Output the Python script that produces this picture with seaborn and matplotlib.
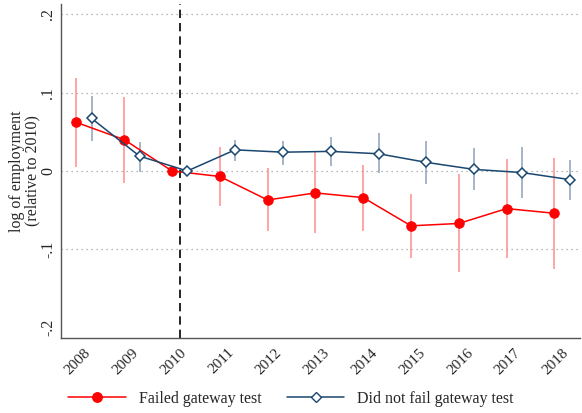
import numpy as np
import pandas as pd
import matplotlib
matplotlib.use("Agg")
import matplotlib.pyplot as plt
from matplotlib.lines import Line2D
import seaborn as sns

## Data
years = [2008, 2009, 2010, 2011, 2012, 2013, 2014, 2015, 2016, 2017, 2018]

failed_est = [0.062, 0.040, 0.0, -0.007, -0.037, -0.028, -0.034, -0.070, -0.067, -0.048, -0.054]
failed_lo = [0.005, -0.015, 0.0, -0.045, -0.077, -0.079, -0.076, -0.111, -0.129, -0.111, -0.125]
failed_hi = [0.119, 0.095, 0.0, 0.031, 0.004, 0.024, 0.008, -0.029, -0.004, 0.015, 0.017]

passed_est = [0.067, 0.019, 0.0, 0.027, 0.024, 0.025, 0.022, 0.011, 0.002, -0.002, -0.011]
passed_lo = [0.038, -0.001, 0.0, 0.013, 0.008, 0.006, -0.003, -0.016, -0.024, -0.035, -0.037]
passed_hi = [0.096, 0.037, 0.0, 0.040, 0.038, 0.044, 0.048, 0.038, 0.029, 0.030, 0.014]

ytick_vals = [-0.2, -0.1, 0.0, 0.1, 0.2]
ytick_labels = ['-.2', '-.1', '0', '.1', '.2']

RED = '#ff0000'
NAVY = '#1a476f'
offset = 0.16

sns.set_style('white')
plt.rcParams['font.family'] = ['Liberation Serif', 'DejaVu Serif']

df = pd.DataFrame({
    'year': years * 2,
    'est': failed_est + passed_est,
    'lo': failed_lo + passed_lo,
    'hi': failed_hi + passed_hi,
    'group': ['Failed gateway test'] * len(years) + ['Did not fail gateway test'] * len(years),
})
df['x'] = df['year'] + np.where(df['group'] == 'Failed gateway test', -offset, offset)

fig = plt.figure(figsize=(5.82, 4.13), dpi=100)
ax = fig.add_axes([0.105, 0.182, 0.892, 0.808])

# horizontal dotted grid
for v in [-0.1, 0.0, 0.1, 0.2]:
    ax.axhline(v, color='#a0a0a0', ls=(0, (1, 3)), lw=0.9, zorder=0)

# confidence intervals
fail = df[df['group'] == 'Failed gateway test']
keep = df[df['group'] == 'Did not fail gateway test']
ax.vlines(fail['x'], fail['lo'], fail['hi'], color='#ff8c8c', lw=1.1, zorder=1)
ax.vlines(keep['x'], keep['lo'], keep['hi'], color='#8ea2b7', lw=1.1, zorder=1)

# point estimates
sns.lineplot(data=fail, x='x', y='est', color=RED, lw=1.1, marker='o',
             markersize=6.8, markeredgecolor=RED, ax=ax, zorder=3)
sns.lineplot(data=keep, x='x', y='est', color=NAVY, lw=1.1, marker='D',
             markersize=5.2, markerfacecolor='white', markeredgecolor=NAVY,
             markeredgewidth=1.1, ax=ax, zorder=3)

ax.axvline(2010, color='black', ls=(0, (5, 3)), lw=1.2, zorder=2)

ax.set_xlim(2007.52, 2018.38)
ax.set_ylim(-0.213, 0.213)
ax.set_xticks(years)
ax.set_xticklabels([str(y) for y in years], rotation=45, ha='right',
                   rotation_mode='anchor', fontsize=11)
ax.set_yticks(ytick_vals)
ax.set_yticklabels(ytick_labels, rotation=90, va='center', fontsize=11.5)
ax.tick_params(axis='x', length=0, pad=6)
ax.tick_params(axis='y', length=0, pad=3.5)
ax.set_xlabel('')
ax.set_ylabel('log of employment\n(relative to 2010)', fontsize=11.5, labelpad=0,
              linespacing=0.95)

sns.despine(ax=ax)
for s in ['left', 'bottom']:
    ax.spines[s].set_color('#555555')
    ax.spines[s].set_linewidth(1.0)

handles = [
    Line2D([], [], color=RED, lw=1.1, marker='o', markersize=6.8),
    Line2D([], [], color=NAVY, lw=1.1, marker='D', markersize=5.2,
           markerfacecolor='white', markeredgecolor=NAVY),
]
fig.legend(handles, ['Failed gateway test', 'Did not fail gateway test'],
           loc='center', bbox_to_anchor=(0.5, 0.035), ncol=2, frameon=False,
           fontsize=11.5, handlelength=3.6, columnspacing=1.6, handletextpad=0.8)

fig.savefig('out.png', dpi=100)
